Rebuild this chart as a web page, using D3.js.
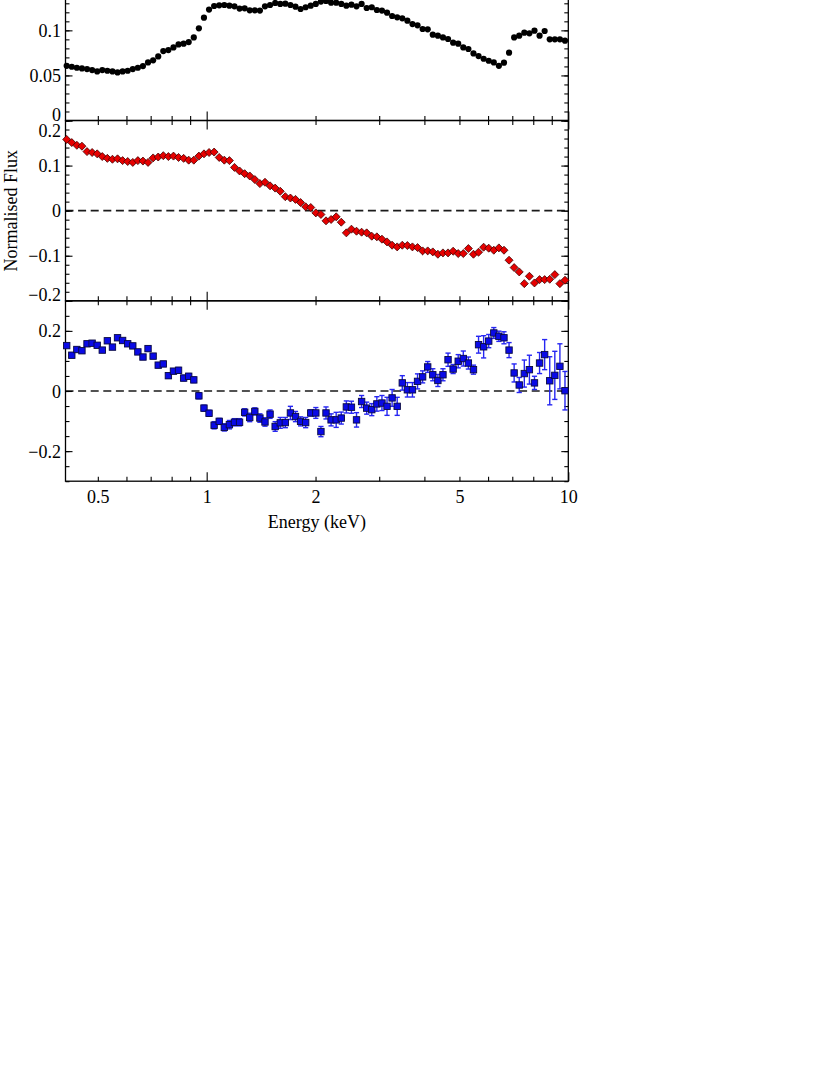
<!DOCTYPE html>
<html>
<head>
<meta charset="utf-8">
<script src="https://cdn.jsdelivr.net/npm/d3@7"></script>
<style>
  html, body { margin: 0; padding: 0; background: #ffffff; }
  svg { display: block; }
</style>
</head>
<body>
<script>
// ---------------- data ----------------
const energies = [
  0.4101,0.4236,0.4375,0.4519,0.4668,0.4822,0.4980,0.5144,0.5313,0.5488,
  0.5669,0.5855,0.6048,0.6247,0.6452,0.6665,0.6884,0.7111,0.7345,0.7586,
  0.7836,0.8094,0.8360,0.8635,0.8919,0.9213,0.9516,0.9829,1.0152,1.0486,
  1.0831,1.1188,1.1556,1.1936,1.2329,1.2735,1.3154,1.3587,1.4034,1.4496,
  1.4973,1.5466,1.5975,1.6500,1.7043,1.7604,1.8183,1.8782,1.9400,2.0038,
  2.0698,2.1379,2.2082,2.2809,2.3560,2.4335,2.5136,2.5963,2.6817,2.7700,
  2.8611,2.9553,3.0525,3.1530,3.2567,3.3639,3.4746,3.5889,3.7070,3.8290,
  3.9550,4.0852,4.2196,4.3585,4.5019,4.6500,4.8030,4.9611,5.1243,5.2929,
  5.4671,5.6470,5.8328,6.0247,6.2230,6.4277,6.6392,6.8577,7.0833,7.3164,
  7.5572,7.8058,8.0627,8.3280,8.6020,8.8851,9.1774,9.4794,9.7913
];

const fluxTop = [
  0.0607,0.0596,0.0585,0.0578,0.0570,0.0559,0.0544,0.0559,0.0552,0.0544,
  0.0533,0.0544,0.0552,0.0570,0.0585,0.0604,0.0644,0.0667,0.0711,0.0770,
  0.0781,0.0811,0.0844,0.0852,0.0870,0.0922,0.1022,0.1141,0.1230,0.1270,
  0.1278,0.1281,0.1274,0.1267,0.1241,0.1244,0.1222,0.1222,0.1219,0.1267,
  0.1281,0.1304,0.1293,0.1296,0.1281,0.1263,0.1237,0.1256,0.1274,0.1293,
  0.1319,0.1326,0.1307,0.1307,0.1293,0.1274,0.1285,0.1267,0.1293,0.1248,
  0.1256,0.1226,0.1219,0.1196,0.1159,0.1144,0.1133,0.1107,0.1070,0.1056,
  0.1015,0.1011,0.0952,0.0941,0.0922,0.0904,0.0863,0.0852,0.0811,0.0793,
  0.0744,0.0715,0.0685,0.0663,0.0644,0.0607,0.0641,0.0752,0.0922,0.0941,
  0.0974,0.0967,0.0996,0.0941,0.0993,0.0900,0.0900,0.0900,0.0885
];

const fluxMid = [
  0.158,0.151,0.145,0.143,0.131,0.129,0.126,0.120,0.116,0.114,
  0.115,0.111,0.109,0.107,0.111,0.110,0.107,0.117,0.119,0.122,
  0.120,0.121,0.118,0.116,0.112,0.112,0.121,0.126,0.129,0.130,
  0.118,0.112,0.111,0.096,0.088,0.082,0.077,0.069,0.060,0.063,
  0.055,0.050,0.043,0.031,0.028,0.025,0.018,0.0085,0.007,-0.005,
  -0.0085,-0.0226,-0.0196,-0.0137,-0.0256,-0.0493,-0.0411,-0.0456,-0.0478,-0.0493,
  -0.0567,-0.0581,-0.0633,-0.0693,-0.0767,-0.0804,-0.0767,-0.0774,-0.0804,-0.0819,
  -0.0893,-0.0893,-0.0915,-0.0967,-0.0937,-0.0937,-0.0900,-0.0952,-0.0952,-0.0841,
  -0.0967,-0.0922,-0.0811,-0.0833,-0.0878,-0.0826,-0.0878,-0.1100,-0.1263,-0.1359,
  -0.1619,-0.1456,-0.1604,-0.1530,-0.1530,-0.1522,-0.1419,-0.1619,-0.1544
];

const fluxBot = [
  0.151,0.119,0.138,0.134,0.157,0.159,0.152,0.136,0.167,0.146,
  0.177,0.168,0.157,0.150,0.130,0.113,0.141,0.116,0.086,0.090,
  0.051,0.066,0.069,0.043,0.049,0.037,-0.016,-0.057,-0.074,-0.114,
  -0.101,-0.121,-0.112,-0.104,-0.104,-0.071,-0.088,-0.068,-0.090,-0.103,
  -0.077,-0.118,-0.106,-0.105,-0.073,-0.085,-0.101,-0.105,-0.073,-0.073,
  -0.135,-0.073,-0.096,-0.096,-0.090,-0.053,-0.054,-0.096,-0.035,-0.057,
  -0.062,-0.043,-0.040,-0.051,-0.023,-0.051,0.027,0.004,0.004,0.032,
  0.047,0.080,0.054,0.035,0.054,0.104,0.073,0.099,0.108,0.093,
  0.071,0.154,0.147,0.166,0.193,0.182,0.177,0.136,0.060,0.020,
  0.058,0.071,0.027,0.093,0.121,0.034,0.052,0.082,0.001
];

const errBot = [
  0.007,0.007,0.007,0.007,0.007,0.007,0.007,0.007,0.007,0.007,
  0.007,0.007,0.008,0.008,0.008,0.008,0.008,0.008,0.008,0.008,
  0.008,0.008,0.009,0.009,0.009,0.009,0.010,0.010,0.010,0.012,
  0.010,0.012,0.014,0.012,0.012,0.012,0.014,0.012,0.014,0.014,
  0.014,0.016,0.018,0.017,0.022,0.017,0.015,0.017,0.010,0.018,
  0.017,0.020,0.020,0.025,0.020,0.020,0.020,0.024,0.020,0.020,
  0.020,0.024,0.025,0.030,0.028,0.030,0.024,0.024,0.024,0.025,
  0.020,0.018,0.020,0.020,0.020,0.022,0.015,0.022,0.025,0.020,
  0.015,0.028,0.037,0.022,0.018,0.017,0.020,0.025,0.030,0.025,
  0.045,0.048,0.022,0.035,0.050,0.080,0.080,0.075,0.064
];

const xTickLabels = [0.5, 1, 2, 5, 10];
const xMajorTicks = [1, 10];
const xMinorTicks = [0.5, 0.6, 0.7, 0.8, 0.9, 2, 3, 4, 5, 6, 7, 8, 9];

const yTicksTop = [0, 0.05, 0.1, 0.15, 0.2];
const yLabelsTop = [0, 0.05, 0.1];          // the others lie above the visible page
const yTicksMid = [-0.2, -0.1, 0, 0.1, 0.2];
const yTicksBot = [-0.2, 0, 0.2];

const xTitle = "Energy (keV)";
const yTitle = "Normalised Flux";

// ---------------- layout ----------------
const W = 830, H = 1075;
const left = 65.5, right = 568.3;
const b0 = -59.8, b1 = 120.5, b2 = 300.8, b3 = 481.2;
const FONT = "'Liberation Serif', 'Times New Roman', Times, serif";

const svg = d3.select("body").append("svg")
  .attr("width", W).attr("height", H)
  .style("font-family", FONT);

const x = d3.scaleLog().domain([0.407, 10]).range([left, right]);

const panels = [
  { y: d3.scaleLinear().domain([0, 0.2]).range([b1, b0]), top: b0, bottom: b1,
    ticks: yTicksTop, labels: yLabelsTop, minorCount: 20, zero: false },
  { y: d3.scaleLinear().domain([-0.2, 0.2]).range([b2, b1]), top: b1, bottom: b2,
    ticks: yTicksMid, labels: yTicksMid, minorCount: 20, zero: true },
  { y: d3.scaleLinear().domain([-0.3, 0.3]).range([b3, b2]), top: b2, bottom: b3,
    ticks: yTicksBot, labels: yTicksBot, minorCount: 12, zero: true }
];

const fmt = v => (v < 0 ? "\u2212" + Math.abs(v) : String(v));

function styleAxis(g) {
  g.select(".domain").remove();
  g.selectAll(".tick line").attr("stroke", "#000").attr("stroke-width", 1.1);
  g.attr("font-family", FONT).attr("font-size", 18);
  g.selectAll("text").attr("fill", "#000");
}

panels.forEach((p) => {
  const y = p.y;
  const g = svg.append("g");

  // zero line
  if (p.zero) {
    g.append("line")
      .attr("x1", left).attr("x2", right)
      .attr("y1", y(0)).attr("y2", y(0))
      .attr("stroke", "#1a1a1a").attr("stroke-width", 1.7)
      .attr("stroke-dasharray", "8,4.6");
  }

  const minor = y.ticks(p.minorCount);

  // left axis ticks
  g.append("g").attr("transform", `translate(${left},0)`)
    .call(d3.axisLeft(y).tickValues(minor).tickSize(-4).tickFormat(""))
    .call(styleAxis);
  g.append("g").attr("transform", `translate(${left},0)`)
    .call(d3.axisLeft(y).tickValues(p.ticks).tickSize(-7).tickFormat(""))
    .call(styleAxis);
  // left axis labels
  const la = g.append("g").attr("transform", `translate(${left},0)`)
    .call(d3.axisLeft(y).tickValues(p.labels).tickSize(0).tickPadding(4.5).tickFormat(fmt))
    .call(styleAxis);
  la.selectAll(".tick line").remove();
  la.selectAll(".tick").each(function(d) {
    let c = y(d);
    if (c - 7 < p.top) c = p.top + 10;
    if (c + 6 > p.bottom) c = p.bottom - 6;
    d3.select(this).select("text")
      .attr("dy", 0).attr("y", c - y(d) + 6);
  });

  // right axis
  g.append("g").attr("transform", `translate(${right},0)`)
    .call(d3.axisRight(y).tickValues(minor).tickSize(-4).tickFormat(""))
    .call(styleAxis);
  g.append("g").attr("transform", `translate(${right},0)`)
    .call(d3.axisRight(y).tickValues(p.ticks).tickSize(-7).tickFormat(""))
    .call(styleAxis);

  // top & bottom x ticks (inward)
  g.append("g").attr("transform", `translate(0,${p.top})`)
    .call(d3.axisTop(x).tickValues(xMinorTicks).tickSize(-4.5).tickFormat(""))
    .call(styleAxis);
  g.append("g").attr("transform", `translate(0,${p.top})`)
    .call(d3.axisTop(x).tickValues(xMajorTicks).tickSize(-9).tickFormat(""))
    .call(styleAxis);
  g.append("g").attr("transform", `translate(0,${p.bottom})`)
    .call(d3.axisBottom(x).tickValues(xMinorTicks).tickSize(-4.5).tickFormat(""))
    .call(styleAxis);
  g.append("g").attr("transform", `translate(0,${p.bottom})`)
    .call(d3.axisBottom(x).tickValues(xMajorTicks).tickSize(-9).tickFormat(""))
    .call(styleAxis);

  // frame
  g.append("rect")
    .attr("x", left).attr("y", p.top)
    .attr("width", right - left).attr("height", p.bottom - p.top)
    .attr("fill", "none").attr("stroke", "#000").attr("stroke-width", 1.3);
});

// ---------------- data marks ----------------
// top: black circles
const yT = panels[0].y;
svg.append("g").selectAll("circle")
  .data(energies.map((e, i) => [e, fluxTop[i]]))
  .join("circle")
  .attr("cx", d => x(d[0])).attr("cy", d => yT(d[1]))
  .attr("r", 3.1).attr("fill", "#000");

// middle: red diamonds
const yM = panels[1].y;
const dr = 4.0;
svg.append("g").selectAll("path")
  .data(energies.map((e, i) => [e, fluxMid[i]]))
  .join("path")
  .attr("transform", d => `translate(${x(d[0])},${yM(d[1])})`)
  .attr("d", `M0,${-dr}L${dr},0L0,${dr}L${-dr},0Z`)
  .attr("fill", "#e60000").attr("stroke", "#400000").attr("stroke-width", 0.8);

// bottom: blue squares with error bars
const yB = panels[2].y;
const botData = energies.map((e, i) => ({ e, v: fluxBot[i], err: errBot[i] }));
const eb = svg.append("g").attr("stroke", "#2626f2").attr("stroke-width", 1.4);
eb.selectAll("line.v").data(botData).join("line").attr("class", "v")
  .attr("x1", d => x(d.e)).attr("x2", d => x(d.e))
  .attr("y1", d => yB(d.v - d.err)).attr("y2", d => yB(d.v + d.err));
eb.selectAll("line.c1").data(botData).join("line").attr("class", "c1")
  .attr("x1", d => x(d.e) - 2.6).attr("x2", d => x(d.e) + 2.6)
  .attr("y1", d => yB(d.v + d.err)).attr("y2", d => yB(d.v + d.err));
eb.selectAll("line.c2").data(botData).join("line").attr("class", "c2")
  .attr("x1", d => x(d.e) - 2.6).attr("x2", d => x(d.e) + 2.6)
  .attr("y1", d => yB(d.v - d.err)).attr("y2", d => yB(d.v - d.err));
const sq = 3.2;
svg.append("g").selectAll("rect")
  .data(botData).join("rect")
  .attr("x", d => x(d.e) - sq).attr("y", d => yB(d.v) - sq)
  .attr("width", 2 * sq).attr("height", 2 * sq)
  .attr("fill", "#0a0ae6").attr("stroke", "#0a0a40").attr("stroke-width", 0.9);

// ---------------- x labels & titles ----------------
const xl = svg.append("g").attr("transform", `translate(0,${b3})`)
  .call(d3.axisBottom(x).tickValues(xTickLabels).tickSize(0).tickFormat(d => String(d)));
xl.select(".domain").remove();
xl.attr("font-family", FONT).attr("font-size", 18);
xl.selectAll("text").attr("fill", "#000").attr("dy", 0).attr("y", 21.8);

svg.append("text")
  .attr("x", (left + right) / 2).attr("y", 527.5)
  .attr("text-anchor", "middle").attr("font-size", 18).attr("fill", "#000")
  .text(xTitle);

svg.append("text")
  .attr("transform", `translate(17,${(b1 + b2) / 2}) rotate(-90)`)
  .attr("text-anchor", "middle").attr("font-size", 18).attr("fill", "#000")
  .text(yTitle);
</script>
</body>
</html>
